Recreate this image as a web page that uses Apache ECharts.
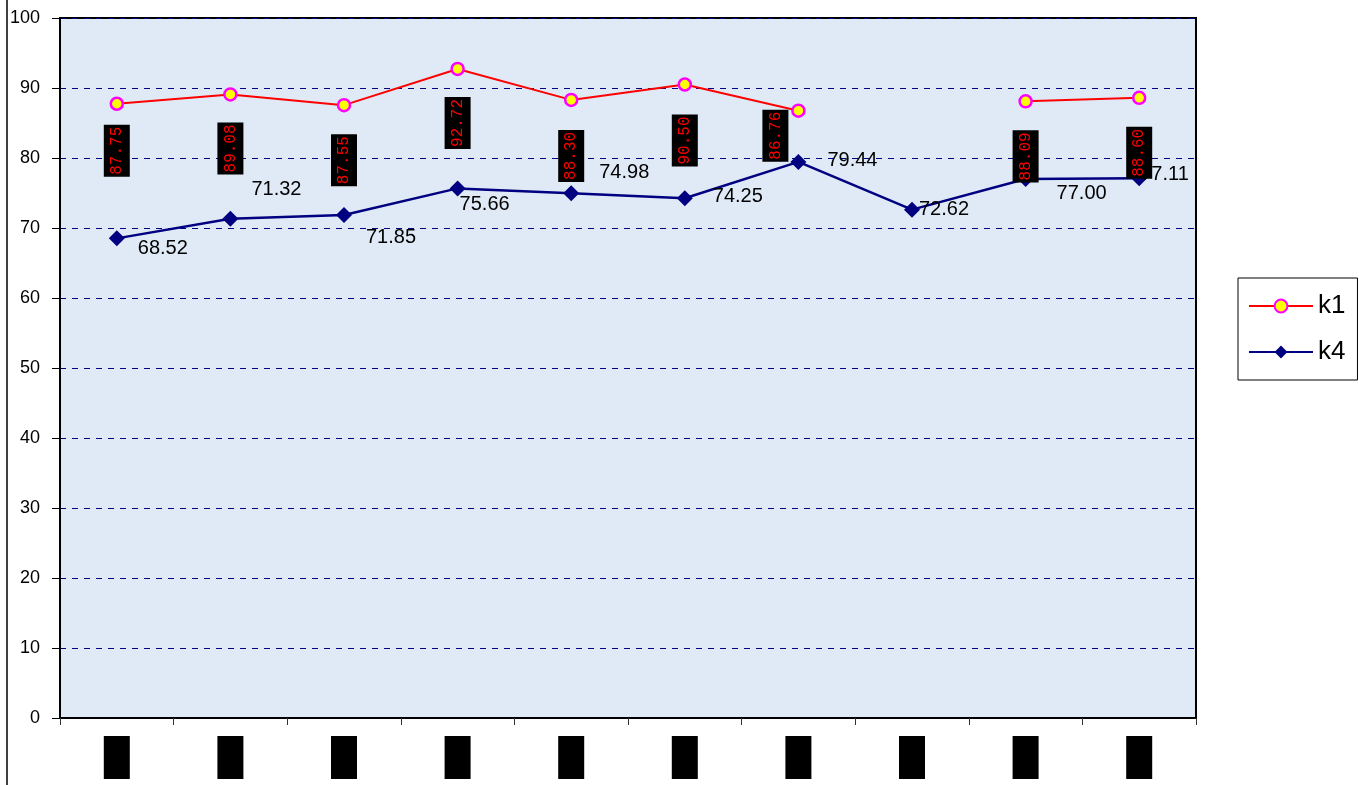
<!DOCTYPE html>
<html><head><meta charset="utf-8">
<script src="https://cdn.jsdelivr.net/npm/echarts@6/dist/echarts.min.js"></script>
<style>html,body{margin:0;padding:0;background:#fff}#c{width:1359px;height:785px}</style>
</head><body><div id="c"></div>
<script>
const categories = ['1','2','3','4','5','6','7','8','9','10'];
const k1 = [87.75, 89.08, 87.55, 92.72, 88.30, 90.50, 86.76, null, 88.09, 88.60];
const k4 = [68.52, 71.32, 71.85, 75.66, 74.98, 74.25, 79.44, 72.62, 77.00, 77.11];
const yTicks = [0,10,20,30,40,50,60,70,80,90,100];

// label placement (style only): [screen dx, screen dy of box top]
const k1LabelOffsets = [[0,21],[0,28],[0,29],[0,28],[0,30],[0,30],[-23,-1],[0,0],[0,29],[0,29]];
const k4LabelOffsets = [[21,10],[21,-29],[22,22],[2,16],[28,-21],[28,-2],[29,-1],[7,0],[31,14],[1,-4]];

const chart = echarts.init(document.getElementById('c'));
chart.setOption({
  animation:false,
  backgroundColor:'#ffffff',
  graphic:[{type:'line',shape:{x1:7,y1:0,x2:7,y2:785},style:{stroke:'#000',lineWidth:1.5}}],
  grid:{left:60,right:163,top:18,bottom:67,show:true,backgroundColor:'#dfeaf6',borderColor:'#000',borderWidth:2},
  legend:{
    orient:'vertical',left:1238,top:278,width:120,
    data:['k1','k4'],
    itemWidth:64,itemHeight:16,itemGap:20,
    padding:[15,12,15,10],
    borderColor:'#000',borderWidth:1,backgroundColor:'#fff',
    textStyle:{fontFamily:'Liberation Sans, Arial',fontSize:26,color:'#000'}
  },
  xAxis:{
    type:'category',data:categories,boundaryGap:true,
    axisLine:{lineStyle:{color:'#000',width:2}},
    axisTick:{show:true,length:7,lineStyle:{color:'#333'},interval:0},
    axisLabel:{interval:0,margin:18,color:'#000',backgroundColor:'#000',width:26,height:43,fontSize:10,align:'center'},
    splitLine:{show:false}
  },
  yAxis:{
    type:'value',min:0,max:100,interval:10,
    axisLine:{show:true,lineStyle:{color:'#000',width:2}},
    axisTick:{show:true,length:8,lineStyle:{color:'#000'}},
    axisLabel:{margin:20,color:'#000',fontFamily:'Liberation Sans, Arial',fontSize:18,
      formatter:v=>yTicks.includes(v)?String(v):''},
    splitLine:{show:true,lineStyle:{color:'#000080',type:[6,6],width:1}}
  },
  series:[
    {
      name:'k1',type:'line',data:k1,connectNulls:false,
      symbol:'circle',symbolSize:12,
      lineStyle:{color:'#ff0000',width:2},
      itemStyle:{color:'#ffff00',borderColor:'#ff00ff',borderWidth:2.5},
      label:{show:true,position:'inside',rotate:90,align:'right',verticalAlign:'middle',
        color:'#ff0000',backgroundColor:'#000',padding:[5,2,5,2],
        fontFamily:'Liberation Mono, monospace',fontSize:16,
        formatter:p=>p.value==null?'':p.value.toFixed(2)},
      labelLayout:function(params){
        const o=k1LabelOffsets[params.dataIndex];
        // label frame is rotated 90deg: local -x = screen down, local +y = screen right
        return {dx:-o[1],dy:o[0]};
      },
      z:3
    },
    {
      name:'k4',type:'line',data:k4,
      symbol:'diamond',symbolSize:16,
      lineStyle:{color:'#000080',width:2.5},
      itemStyle:{color:'#000080'},
      label:{show:true,position:'inside',align:'left',verticalAlign:'middle',
        color:'#000',fontFamily:'Liberation Sans, Arial',fontSize:20,
        formatter:p=>p.value.toFixed(2)},
      labelLayout:function(params){
        const o=k4LabelOffsets[params.dataIndex];
        return {dx:o[0],dy:o[1]};
      },
      z:2
    }
  ]
});
</script></body></html>
